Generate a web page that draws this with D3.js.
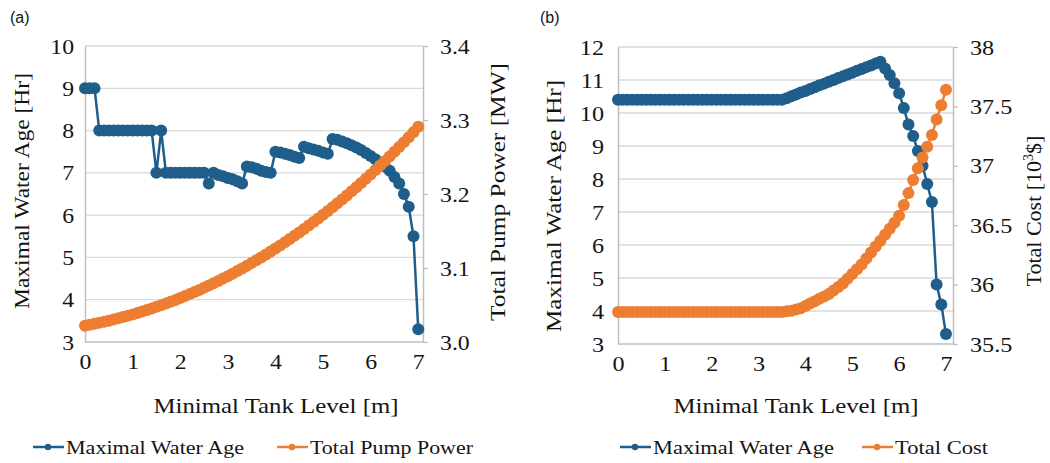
<!DOCTYPE html>
<html><head><meta charset="utf-8">
<script src="https://cdn.jsdelivr.net/npm/d3@7"></script>
<style>
body{margin:0;background:#fff;}
</style></head>
<body><svg id="c" width="1050" height="463" style="font-family:'Liberation Serif',serif"></svg>
<script>
// ---------- DATA ----------
const tankLevel = [0,0.1,0.2,0.3,0.4,0.5,0.6,0.7,0.8,0.9,1,1.1,1.2,1.3,1.4,1.5,1.6,1.7,1.8,1.9,2,2.1,2.2,2.3,2.4,2.5,2.6,2.7,2.8,2.9,3,3.1,3.2,3.3,3.4,3.5,3.6,3.7,3.8,3.9,4,4.1,4.2,4.3,4.4,4.5,4.6,4.7,4.8,4.9,5,5.1,5.2,5.3,5.4,5.5,5.6,5.7,5.8,5.9,6,6.1,6.2,6.3,6.4,6.5,6.6,6.7,6.8,6.9,7];

const waterAgeA = [9,9,9,8,8,8,8,8,8,8,8,8,8,8,8,7,8,7,7,7,7,7,7,7,7,7,6.75,7,6.95,6.92,6.88,6.85,6.8,6.75,7.15,7.13,7.1,7.05,7.02,7,7.5,7.48,7.45,7.42,7.38,7.35,7.62,7.58,7.55,7.52,7.48,7.45,7.8,7.78,7.74,7.7,7.65,7.6,7.54,7.47,7.4,7.32,7.24,7.15,7.05,6.9,6.75,6.5,6.2,5.5,3.3];

const pumpPower = [3.0220,3.0232,3.0245,3.0259,3.0273,3.0288,3.0304,3.0320,3.0337,3.0354,3.0373,3.0392,3.0411,3.0432,3.0453,3.0475,3.0497,3.0520,3.0544,3.0569,3.0594,3.0621,3.0647,3.0675,3.0703,3.0733,3.0762,3.0793,3.0824,3.0857,3.0890,3.0923,3.0958,3.0993,3.1029,3.1066,3.1104,3.1143,3.1182,3.1222,3.1263,3.1305,3.1348,3.1391,3.1436,3.1481,3.1527,3.1574,3.1622,3.1670,3.1720,3.1770,3.1822,3.1874,3.1927,3.1981,3.2036,3.2092,3.2149,3.2206,3.2265,3.2324,3.2385,3.2446,3.2508,3.2572,3.2636,3.2701,3.2767,3.2834,3.2910];

const waterAgeB = [10.4,10.4,10.4,10.4,10.4,10.4,10.4,10.4,10.4,10.4,10.4,10.4,10.4,10.4,10.4,10.4,10.4,10.4,10.4,10.4,10.4,10.4,10.4,10.4,10.4,10.4,10.4,10.4,10.4,10.4,10.4,10.4,10.4,10.4,10.4,10.4,10.45,10.51,10.56,10.62,10.67,10.73,10.78,10.84,10.89,10.95,11.0,11.06,11.11,11.17,11.22,11.28,11.33,11.39,11.44,11.5,11.55,11.35,11.15,10.9,10.6,10.15,9.65,9.3,8.85,8.4,7.85,7.3,4.8,4.2,3.3];

const totalCost = [35.77,35.77,35.77,35.77,35.77,35.77,35.77,35.77,35.77,35.77,35.77,35.77,35.77,35.77,35.77,35.77,35.77,35.77,35.77,35.77,35.77,35.77,35.77,35.77,35.77,35.77,35.77,35.77,35.77,35.77,35.77,35.77,35.77,35.77,35.77,35.77,35.775,35.78,35.79,35.80,35.82,35.84,35.86,35.88,35.90,35.92,35.95,35.98,36.01,36.05,36.09,36.13,36.17,36.22,36.27,36.32,36.37,36.42,36.47,36.52,36.58,36.67,36.77,36.88,36.98,37.07,37.16,37.26,37.39,37.51,37.64];

const xTicks = [0,1,2,3,4,5,6,7];
const leftTicksA = [3,4,5,6,7,8,9,10];
const rightTicksA = [3.0,3.1,3.2,3.3,3.4];
const leftTicksB = [3,4,5,6,7,8,9,10,11,12];
const rightTicksB = [35.5,36,36.5,37,37.5,38];

const BLUE = "#1f5e8a", ORANGE = "#ed7d31", INK = "#141414";
const svg = d3.select("#c");

function fit(sel, len){ sel.attr("textLength", len).attr("lengthAdjust","spacingAndGlyphs"); return sel; }

function panel(o){
  const g = svg.append("g");
  const x = d3.scaleLinear().domain(o.xDom).range([o.L, o.R]);
  const yl = d3.scaleLinear().domain(o.lDom).range([o.B, o.T]);
  const yr = d3.scaleLinear().domain(o.rDom).range([o.B, o.T]);
  g.selectAll(".grid").data(o.lTicks.slice(1)).join("line")
    .attr("x1", o.L).attr("x2", o.R).attr("y1", d=>yl(d)).attr("y2", d=>yl(d))
    .attr("stroke", "#d9d9d9").attr("stroke-width", 1.3);
  const ax = (sel)=>{ sel.attr("font-family",null);
    sel.select(".domain").attr("stroke","#bfbfbf").attr("stroke-width",1.5);
    sel.selectAll(".tick line").attr("stroke","#bfbfbf").attr("stroke-width",1.3);
    sel.selectAll("text").style("font-family","'Liberation Serif',serif").attr("font-size",o.tickFs).attr("fill",INK)
      .each(function(){ const l=this.getComputedTextLength(); d3.select(this).call(fit, l*o.tickStretch); }); };
  g.append("g").attr("transform",`translate(${o.L},0)`)
    .call(d3.axisLeft(yl).tickValues(o.lTicks).tickSize(0).tickPadding(o.lPad).tickFormat(d3.format("d")))
    .call(ax);
  g.append("g").attr("transform",`translate(${o.R},0)`)
    .call(d3.axisRight(yr).tickValues(o.rTicks).tickSizeInner(5).tickSizeOuter(0).tickPadding(12).tickFormat(o.rFmt))
    .call(ax);
  g.append("g").attr("transform",`translate(0,${o.B})`)
    .call(d3.axisBottom(x).tickValues(xTicks).tickSize(0).tickPadding(11).tickFormat(d3.format("d")))
    .call(ax).call(s=>s.select(".domain").attr("d",`M${o.L},0H${o.R}`));
  const series = [{v:o.leftVals, y:yl, c:BLUE},{v:o.rightVals, y:yr, c:ORANGE}];
  series.forEach(s=>{
    const pts = tankLevel.map((t,i)=>[x(t), s.y(s.v[i])]);
    g.append("path").attr("d", d3.line()(pts)).attr("fill","none").attr("stroke",s.c).attr("stroke-width",2.5);
    g.selectAll(null).data(pts).join("circle").attr("cx",d=>d[0]).attr("cy",d=>d[1]).attr("r",6).attr("fill",s.c);
  });
  g.append("text").attr("x",o.labelX).attr("y",23).style("font-family","'Liberation Sans',sans-serif").attr("font-size",16).attr("fill",INK).text(o.label);
  g.append("text").attr("transform",`translate(${o.lTitleX},${o.lTitleY}) rotate(-90)`).attr("text-anchor","middle")
    .attr("font-size",o.titleFs).attr("fill",INK).text("Maximal Water Age [Hr]").call(fit,o.lTitleLen);
  const rt = g.append("text").attr("transform",`translate(${o.rTitleX},${o.rTitleY}) rotate(-90)`).attr("text-anchor","middle")
    .attr("font-size",o.titleFs).attr("fill",INK);
  o.rTitle(rt);
  g.append("text").attr("x",o.xTitleX).attr("y",413).attr("text-anchor","middle").attr("font-size",o.titleFs).attr("fill",INK)
    .text("Minimal Tank Level [m]").call(fit,245);
  o.legend.forEach(l=>{
    g.append("line").attr("x1",l.x).attr("x2",l.x+31).attr("y1",447).attr("y2",447).attr("stroke",l.c).attr("stroke-width",2.5);
    g.append("circle").attr("cx",l.x+15).attr("cy",447).attr("r",3.2).attr("fill",l.c);
    g.append("text").attr("x",l.x+33).attr("y",454).attr("font-size",19).attr("fill",INK).text(l.t).call(fit,l.len);
  });
}

panel({L:85,R:423,T:46,B:342,xDom:[0,7.1],lDom:[3,10],rDom:[3.0,3.4],
  lTicks:leftTicksA,rTicks:rightTicksA,rFmt:d3.format(".1f"),tickFs:22,tickStretch:1.08,lPad:11,titleFs:22,
  leftVals:waterAgeA,rightVals:pumpPower,label:"(a)",labelX:10,
  lTitleX:29,lTitleY:191,lTitleLen:236,rTitleX:505,rTitleY:192,
  rTitle:t=>t.text("Total Pump Power [MW]").call(fit,258),xTitleX:276,
  legend:[{x:33,c:BLUE,t:"Maximal Water Age",len:178},{x:277,c:ORANGE,t:"Total Pump Power",len:163}]});

panel({L:618,R:953,T:47,B:344,xDom:[0,7.15],lDom:[3,12],rDom:[35.5,38],
  lTicks:leftTicksB,rTicks:rightTicksB,rFmt:d3.format("~g"),tickFs:22,tickStretch:1.1,lPad:14,titleFs:22,
  leftVals:waterAgeB,rightVals:totalCost,label:"(b)",labelX:540,
  lTitleX:561,lTitleY:206,lTitleLen:252,rTitleX:1041,rTitleY:211,
  rTitle:t=>{t.append("tspan").text("Total Cost [10");t.append("tspan").attr("dy",-8).attr("font-size",14).text("3");t.append("tspan").attr("dy",8).text("$]");},
  xTitleX:796,
  legend:[{x:620,c:BLUE,t:"Maximal Water Age",len:181},{x:862,c:ORANGE,t:"Total Cost",len:93}]});
</script></body></html>
